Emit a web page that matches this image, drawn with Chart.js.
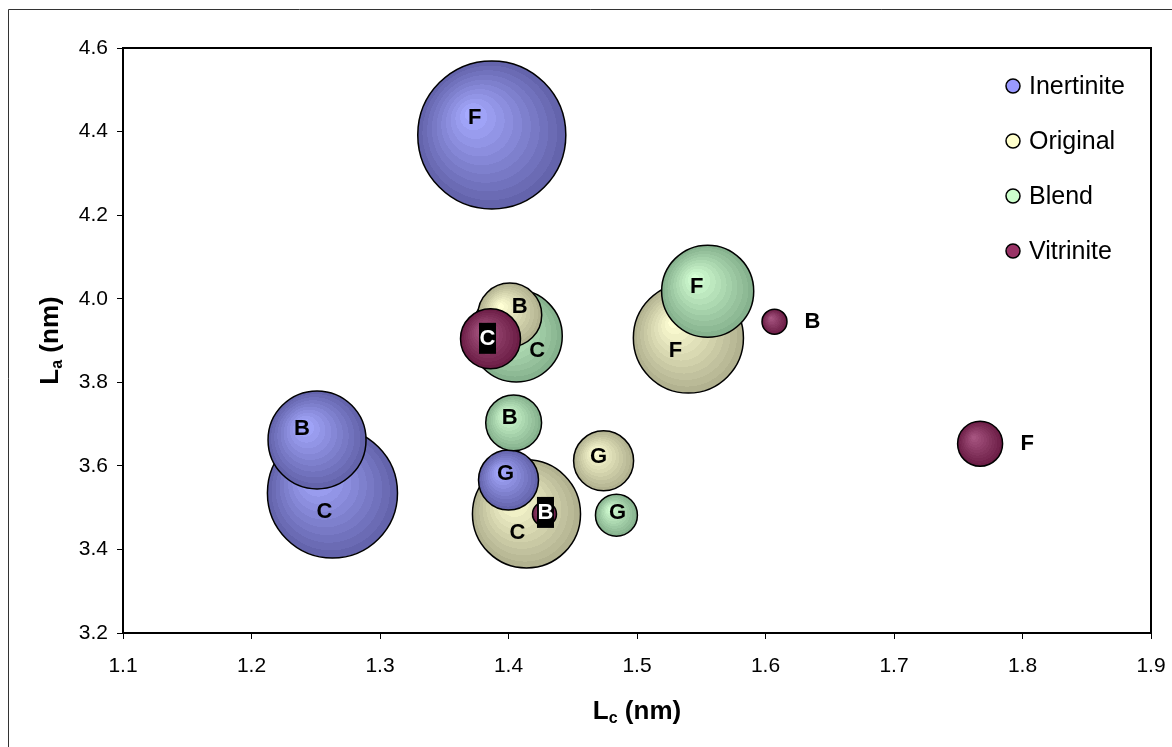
<!DOCTYPE html>
<html lang="en">
<head>
<meta charset="UTF-8">
<title>La vs Lc bubble chart</title>
<script src="https://cdn.jsdelivr.net/npm/chart.js"></script>
<style>
  html, body { margin: 0; padding: 0; background: #fff; }
  #wrap { width: 1172px; height: 747px; }
</style>
</head>
<body>
<div id="wrap"><canvas id="myChart" width="1172" height="747"></canvas></div>
<script>
// values (Lc, La in nm, bubble size in arbitrary units)
const seriesNames = ['Inertinite', 'Original', 'Blend', 'Vitrinite'];

const inertiniteLc   = [1.387, 1.263, 1.251, 1.400];
const inertiniteLa   = [4.392, 3.535, 3.662, 3.566];
const inertiniteSize = [54.8, 42.3, 24.0, 9.0];
const inertiniteTags = ['F', 'C', 'B', 'G'];

const originalLc   = [1.540, 1.414, 1.401, 1.474];
const originalLa   = [3.906, 3.485, 3.961, 3.612];
const originalSize = [30.3, 29.2, 10.2, 9.0];
const originalTags = ['F', 'C', 'B', 'G'];

const blendLc   = [1.555, 1.406, 1.404, 1.484];
const blendLa   = [4.018, 3.911, 3.703, 3.482];
const blendSize = [21.2, 21.2, 7.8, 4.4];
const blendTags = ['F', 'C', 'B', 'G'];

const vitriniteLc   = [1.386, 1.428, 1.607, 1.767];
const vitriniteLa   = [3.904, 3.485, 3.945, 3.653];
const vitriniteSize = [9.0, 1.44, 1.56, 5.06];
const vitriniteTags = ['C', 'B', 'B', 'F'];

const xTicks = [1.1, 1.2, 1.3, 1.4, 1.5, 1.6, 1.7, 1.8, 1.9];
const yTicks = [3.2, 3.4, 3.6, 3.8, 4.0, 4.2, 4.4, 4.6];

// ---- styling (not data) ----
const seriesColours = [
    { flat: '#9999ff', light: [166, 170, 255], dark: [100, 100, 172] },
    { flat: '#ffffcc', light: [255, 255, 212], dark: [178, 178, 144] },
    { flat: '#ccffcc', light: [212, 255, 212], dark: [134, 178, 142] },
    { flat: '#993366', light: [166, 84, 128], dark: [108, 30, 70] }
];
// label nudges in px from the bubble centre, and which labels sit on a black box
const labelOffsets = [
    [[-17, -18], [-8, 18], [-15, -12], [-3, -7]],
    [[-13, 12], [-9, 18], [10, -9], [-5, -5]],
    [[-11, -5], [21, 14], [-4, -6], [1, -3]],
    [[-3, -1], [1, -2], [38, -1], [47, -1]]
];
const labelBoxed = [
    [false, false, false, false],
    [false, false, false, false],
    [false, false, false, false],
    [true, true, false, false]
];
const FONT = '"Liberation Sans", Arial, sans-serif';

const allLc = [inertiniteLc, originalLc, blendLc, vitriniteLc];
const allLa = [inertiniteLa, originalLa, blendLa, vitriniteLa];
const allSize = [inertiniteSize, originalSize, blendSize, vitriniteSize];
const allTags = [inertiniteTags, originalTags, blendTags, vitriniteTags];

const radiusOf = size => 10 * Math.sqrt(size);

// bubbles may hang over the plot edge, don't let them shrink the plot area
Chart.BubbleController.prototype.getMaxOverflow = function () { return 0; };

function mix(a, b, t) {
    return 'rgb(' + [0, 1, 2].map(k => Math.round(a[k] + (b[k] - a[k]) * t)).join(',') + ')';
}

// banded radial shading like the old Excel 3-D bubbles
function bubbleFill(ctx) {
    const col = seriesColours[ctx.dataset.series];
    const chart = ctx.chart;
    if (ctx.type !== 'data' || !chart.chartArea || !ctx.raw) return col.flat;
    const cx = chart.scales.x.getPixelForValue(ctx.raw.x);
    const cy = chart.scales.y.getPixelForValue(ctx.raw.y);
    const r = ctx.raw.r;
    const g = chart.ctx.createRadialGradient(cx - 0.3 * r, cy - 0.3 * r, 0, cx, cy, r);
    const n = 11;
    for (let i = 0; i < n; i++) {
        const c = mix(col.light, col.dark, i / (n - 1));
        g.addColorStop(i / n, c);
        g.addColorStop((i + 1) / n, c);
    }
    return g;
}

// one dataset per bubble so that bigger bubbles get drawn underneath smaller ones
const datasets = [];
seriesNames.forEach((name, s) => {
    allLc[s].forEach((lc, i) => {
        const r = radiusOf(allSize[s][i]);
        datasets.push({
            label: name,
            series: s,
            idx: i,
            tag: allTags[s][i],
            data: [{ x: lc, y: allLa[s][i], r: r }],
            order: r,
            backgroundColor: bubbleFill,
            borderColor: '#000',
            borderWidth: 1.5
        });
    });
});

const frame = {
    id: 'frame',
    beforeDraw(chart) {
        const c = chart.ctx;
        c.save();
        c.strokeStyle = '#333';
        c.lineWidth = 1;
        c.beginPath();
        c.moveTo(8.5, 747);
        c.lineTo(8.5, 9.5);
        c.lineTo(1172, 9.5);
        c.stroke();
        c.restore();
    },
    afterDraw(chart) {
        const a = chart.chartArea;
        const c = chart.ctx;
        c.save();
        c.strokeStyle = '#000';
        c.lineWidth = 2;
        c.strokeRect(a.left, a.top, a.right - a.left, a.bottom - a.top);
        c.restore();
    }
};

const bubbleLabels = {
    id: 'bubbleLabels',
    afterDatasetsDraw(chart) {
        const c = chart.ctx;
        c.save();
        c.font = 'bold 22px ' + FONT;
        c.textAlign = 'center';
        c.textBaseline = 'middle';
        chart.data.datasets.forEach((ds, i) => {
            const el = chart.getDatasetMeta(i).data[0];
            const off = labelOffsets[ds.series][ds.idx];
            const x = el.x + off[0], y = el.y + off[1];
            if (labelBoxed[ds.series][ds.idx]) {
                c.fillStyle = '#000';
                c.fillRect(x - 8.5, y - 15, 17, 31);
                c.fillStyle = '#fff';
            } else {
                c.fillStyle = '#000';
            }
            c.fillText(ds.tag, x, y + 1);
        });
        c.restore();
    }
};

const legendBox = {
    id: 'legendBox',
    afterDraw(chart) {
        const c = chart.ctx;
        c.save();
        c.font = '25px ' + FONT;
        c.textBaseline = 'middle';
        c.textAlign = 'left';
        seriesNames.forEach((name, s) => {
            const y = 86 + s * 55;
            c.beginPath();
            c.arc(1013, y, 7, 0, Math.PI * 2);
            c.fillStyle = seriesColours[s].flat;
            c.fill();
            c.lineWidth = 1.5;
            c.strokeStyle = '#000';
            c.stroke();
            c.fillStyle = '#000';
            c.fillText(name, 1029, y + 1);
        });
        c.restore();
    }
};

function drawSubTitle(c, main, sub, rest, x, y) {
    c.font = 'bold 26px ' + FONT;
    const w1 = c.measureText(main).width;
    const w3 = c.measureText(rest).width;
    c.font = 'bold 16px ' + FONT;
    const w2 = c.measureText(sub).width;
    let cx = x - (w1 + w2 + w3) / 2;
    c.font = 'bold 26px ' + FONT;
    c.fillText(main, cx, y);
    cx += w1;
    c.font = 'bold 16px ' + FONT;
    c.fillText(sub, cx, y + 4);
    cx += w2;
    c.font = 'bold 26px ' + FONT;
    c.fillText(rest, cx, y);
}

const axisTitles = {
    id: 'axisTitles',
    afterDraw(chart) {
        const a = chart.chartArea;
        const c = chart.ctx;
        c.save();
        c.fillStyle = '#000';
        c.textAlign = 'left';
        c.textBaseline = 'alphabetic';
        drawSubTitle(c, 'L', 'c', ' (nm)', (a.left + a.right) / 2, 719);
        c.translate(58, (a.top + a.bottom) / 2);
        c.rotate(-Math.PI / 2);
        drawSubTitle(c, 'L', 'a', ' (nm)', 0, 0);
        c.restore();
    }
};

const ctx = document.getElementById('myChart').getContext('2d');
new Chart(ctx, {
    type: 'bubble',
    data: { datasets: datasets },
    plugins: [frame, bubbleLabels, legendBox, axisTitles],
    options: {
        responsive: false,
        animation: false,
        events: [],
        layout: { padding: { top: 48, right: 21, left: 0, bottom: 0 } },
        plugins: {
            legend: { display: false },
            tooltip: { enabled: false }
        },
        scales: {
            x: {
                type: 'linear',
                min: xTicks[0],
                max: xTicks[xTicks.length - 1],
                afterFit: s => { s.height = 114; s.paddingLeft = 0; s.paddingRight = 0; },
                afterBuildTicks: s => { s.ticks = xTicks.map(v => ({ value: v })); },
                border: { display: true, color: '#000', width: 2 },
                grid: { display: true, drawOnChartArea: false, tickLength: 6, color: '#000', lineWidth: 1 },
                ticks: {
                    color: '#000',
                    padding: 15,
                    font: { family: FONT, size: 21 },
                    callback: v => Number(v).toFixed(1)
                }
            },
            y: {
                type: 'linear',
                min: yTicks[0],
                max: yTicks[yTicks.length - 1],
                afterFit: s => { s.width = 123; s.paddingTop = 0; s.paddingBottom = 0; },
                afterBuildTicks: s => { s.ticks = yTicks.map(v => ({ value: v })); },
                border: { display: true, color: '#000', width: 2 },
                grid: { display: true, drawOnChartArea: false, tickLength: 6, color: '#000', lineWidth: 1 },
                ticks: {
                    color: '#000',
                    padding: 9,
                    font: { family: FONT, size: 21 },
                    callback: v => Number(v).toFixed(1)
                }
            }
        }
    }
});
</script>
</body>
</html>
